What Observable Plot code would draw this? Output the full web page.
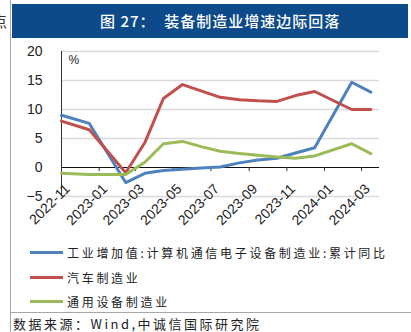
<!DOCTYPE html>
<html><head><meta charset="utf-8">
<script src="https://cdn.jsdelivr.net/npm/d3@7"></script>
<script src="https://cdn.jsdelivr.net/npm/@observablehq/plot@0.6"></script>
<style>
html,body{margin:0;padding:0;background:#fff}
body{width:411px;height:332px;overflow:hidden;position:relative;font-family:"Noto Sans CJK SC","Noto Sans",sans-serif}
#vline{position:absolute;left:10px;top:0;width:1px;height:332px;background:#a6a6a6}
#hline{position:absolute;left:10px;top:312px;width:401px;height:1px;background:#a6a6a6}
#titlebar{position:absolute;left:12px;top:4px;width:396px;height:34px;background:#0d4a8a}
#title{position:absolute;left:100px;top:4px;height:34px;line-height:34px;color:#fff;font-size:15px;letter-spacing:1px;font-weight:500;white-space:nowrap}
#cut{position:absolute;left:-8px;top:11px;font-size:15px;line-height:20px;color:#333}
#chart{position:absolute;left:11px;top:40px}
.lg{position:absolute;left:30px;height:20px;white-space:nowrap}
.sw{position:absolute;left:0;top:8px;width:33px;height:3px}
.lt{position:absolute;left:37px;top:0;line-height:20px;font-size:12px;letter-spacing:2.7px;color:#222}
#source{position:absolute;left:13px;top:314px;font-size:13px;line-height:20px;letter-spacing:2.5px;color:#222;white-space:nowrap}
</style></head>
<body>
<div id="vline"></div>
<div id="hline"></div>
<div id="cut">点</div>
<div id="titlebar"></div>
<div id="title">图 27：&nbsp; 装备制造业增速边际回落</div>
<div id="chart"></div>
<div id="legend"></div>
<div id="source">数据来源：Wind,中诚信国际研究院</div>
<script>
const dates = ["2022-11-16","2022-12-31","2023-02-28","2023-03-31","2023-04-30","2023-05-31","2023-06-30","2023-07-31","2023-08-31","2023-09-30","2023-10-31","2023-11-30","2023-12-31","2024-02-29","2024-03-31"];
const electronics = [9.0,7.6,-2.6,-1.0,-0.5,-0.3,-0.1,0.1,0.8,1.3,1.6,2.5,3.4,14.7,13.0];
const autos = [8.0,6.5,-0.9,4.3,11.9,14.3,13.2,12.1,11.7,11.5,11.4,12.4,13.1,10.0,10.0];
const general = [-1.0,-1.2,-1.2,0.9,4.1,4.5,3.6,2.8,2.4,2.1,1.8,1.6,2.0,4.1,2.4];
const seriesNames = ["工业增加值:计算机通信电子设备制造业:累计同比","汽车制造业","通用设备制造业"];
const seriesColors = ["#4f81bd","#c0504d","#9bbb59"];
const tickDates = ["2022-11-16","2023-01-16","2023-03-16","2023-05-16","2023-07-16","2023-09-16","2023-11-16","2024-01-16","2024-03-16"];
const xEnd = "2024-04-14";
const yTicks = [-5,0,5,10,15,20];
const gridValues = [-5,5,10,15,20];
const unitLabel = "%";

const seriesValues = [electronics, autos, general];
const data = [];
seriesValues.forEach((vals, s) => vals.forEach((v, i) => data.push({date: new Date(dates[i]), value: v, series: seriesNames[s]})));
const fmt = d3.utcFormat("%Y-%m");
const ticks = tickDates.map(d => new Date(d));

const chart = Plot.plot({
  width: 400, height: 200,
  marginLeft: 50, marginRight: 32, marginTop: 11, marginBottom: 44,
  x: {type: "utc", domain: [new Date(dates[0]), new Date(xEnd)], axis: null},
  y: {domain: [-5, 20], axis: null},
  color: {domain: seriesNames, range: seriesColors},
  style: {fontFamily: "'Liberation Sans', Arial, sans-serif", fontSize: "14px", color: "#222", background: "transparent"},
  marks: [
    Plot.ruleY(gridValues, {stroke: "#d9d9d9", strokeWidth: 1.5}),
    Plot.axisY(yTicks, {tickSize: 0, tickPadding: 19, fontSize: 14, fill: "#222", label: null}),
    Plot.ruleX([new Date(dates[0])], {y1: -5, y2: 20, stroke: "#333", strokeWidth: 1}),
    Plot.ruleY([0], {stroke: "#111", strokeWidth: 1.2}),
    Plot.ruleX(ticks, {x: d => d, y1: 0, y2: -0.7, stroke: "#333"}),
    Plot.lineY(data, {x: "date", y: "value", stroke: "series", strokeWidth: 3}),
    Plot.text(ticks, {x: d => d, y: 0, text: d => fmt(d), rotate: -45, textAnchor: "end", dx: 6, dy: 19, fontSize: 14, fill: "#222"}),
    Plot.text([unitLabel], {frameAnchor: "top-left", dx: 7, dy: 4, fontSize: 12, fill: "#222"})
  ]
});
document.getElementById("chart").appendChild(chart);

const legend = document.getElementById("legend");
const rowTops = [243, 268, 292];
seriesNames.forEach((name, i) => {
  const row = document.createElement("div");
  row.className = "lg";
  row.style.top = rowTops[i] + "px";
  row.innerHTML = `<span class="sw" style="background:${seriesColors[i]}"></span><span class="lt">${name}</span>`;
  legend.appendChild(row);
});
</script>
</body></html>
